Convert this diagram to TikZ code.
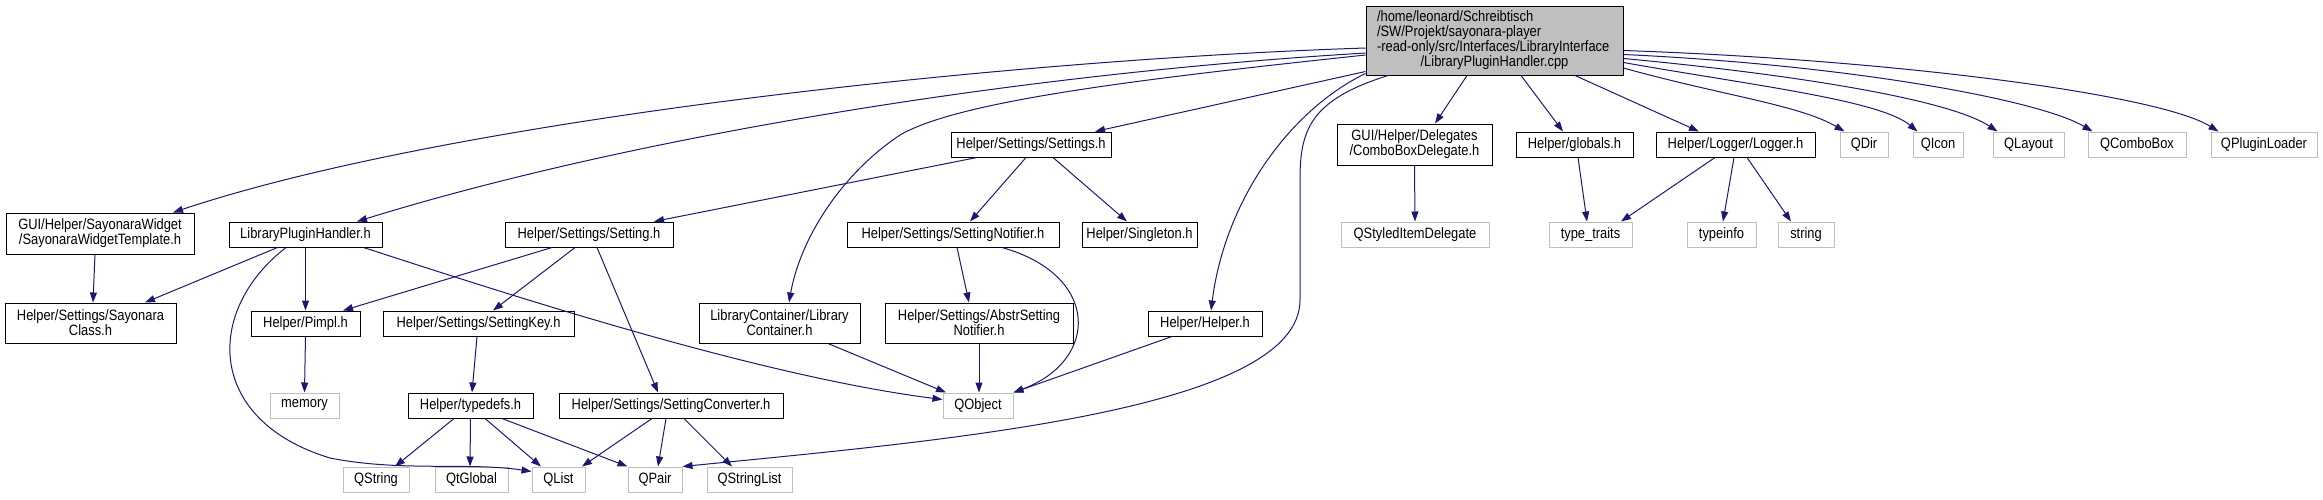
\documentclass[tikz,border=0pt]{standalone}
\usepackage{fontspec}
\setmainfont{Liberation Sans}[FakeStretch=0.86]
\usetikzlibrary{arrows.meta}
\definecolor{edgeblue}{HTML}{191970}
\definecolor{extgray}{HTML}{BFBFBF}
\tikzset{
  doc/.style={draw=black, fill=white, line width=1pt, inner sep=0pt, align=center, font=\fontsize{15}{15}\selectfont},
  ext/.style={doc, draw=extgray},
  sz/.style 2 args={minimum width=#1pt, minimum height=#2pt},
  inc/.style={draw=edgeblue, line width=1pt, -{Triangle[length=10pt,width=7pt]}}}

\begin{document}
\begin{tikzpicture}[x=1pt, y=-1pt]
	\useasboundingbox (0,0) rectangle (2323,499);
	% nodes
	\node[doc, fill=extgray, sz={257}{69}, text width=235pt, inner xsep=11pt, align=left] (root) at (1494.5,40.5)
		{/home/leonard/Schreibtisch\\/SW/Projekt/sayonara-player\\-read-only/src/Interfaces/LibraryInterface\\\makebox[235pt][c]{/LibraryPluginHandler.cpp}};
	\node[doc, sz={160}{25}] (settings) at (1031,144.5) {Helper/Settings/Settings.h};
	\node[doc, sz={155}{41}] (combo) at (1414.5,144.5) {GUI/Helper/Delegates\\/ComboBoxDelegate.h};
	\node[doc, sz={117}{25}] (globals) at (1574.5,144.5) {Helper/globals.h};
	\node[doc, sz={159}{25}] (logger) at (1735.5,144.5) {Helper/Logger/Logger.h};
	\node[ext, sz={48}{25}] (qdir) at (1864,144.5) {QDir};
	\node[ext, sz={50}{25}] (qicon) at (1938,144.5) {QIcon};
	\node[ext, sz={71}{25}] (qlayout) at (2028.5,144.5) {QLayout};
	\node[ext, sz={98}{25}] (qcombobox) at (2137,144.5) {QComboBox};
	\node[ext, sz={106}{25}] (qpluginloader) at (2264,144.5) {QPluginLoader};
	\node[doc, sz={188}{41}] (swt) at (100,233.5) {GUI/Helper/SayonaraWidget\\/SayonaraWidgetTemplate.h};
	\node[doc, sz={153}{25}] (lph) at (305.5,234.5) {LibraryPluginHandler.h};
	\node[doc, sz={168}{25}] (setting) at (589,234.5) {Helper/Settings/Setting.h};
	\node[doc, sz={212}{25}] (notifier) at (953,234.5) {Helper/Settings/SettingNotifier.h};
	\node[doc, sz={115}{25}] (singleton) at (1139.5,234.5) {Helper/Singleton.h};
	\node[ext, sz={148}{25}] (styled) at (1415,234.5) {QStyledItemDelegate};
	\node[ext, sz={83}{25}] (typetraits) at (1590.5,234.5) {type\_traits};
	\node[ext, sz={69}{25}] (typeinfo) at (1721.5,234.5) {typeinfo};
	\node[ext, sz={56}{25}] (string) at (1806,234.5) {string};
	\node[doc, sz={171}{40}] (sayclass) at (90.5,323) {Helper/Settings/Sayonara\\Class.h};
	\node[doc, sz={109}{25}] (pimpl) at (305.5,323.5) {Helper/Pimpl.h};
	\node[doc, sz={191}{25}] (key) at (478.5,323.5) {Helper/Settings/SettingKey.h};
	\node[doc, sz={161}{40}] (container) at (779.5,323) {LibraryContainer/Library\\Container.h};
	\node[doc, sz={188}{40}] (abstr) at (979,323) {Helper/Settings/AbstrSetting\\Notifier.h};
	\node[doc, sz={114}{25}] (helper) at (1205,323.5) {Helper/Helper.h};
	\node[ext, sz={69}{25}] (memory) at (304.5,405.5) {memory};
	\node[doc, sz={125}{25}] (typedefs) at (470.5,405.5) {Helper/typedefs.h};
	\node[doc, sz={224}{25}] (converter) at (671,405.5) {Helper/Settings/SettingConverter.h};
	\node[ext, sz={70}{25}] (qobject) at (978,405.5) {QObject};
	\node[ext, sz={66}{25}] (qstring) at (376,479.5) {QString};
	\node[ext, sz={73}{25}] (qtglobal) at (471.5,479.5) {QtGlobal};
	\node[ext, sz={53}{25}] (qlist) at (558.5,479.5) {QList};
	\node[ext, sz={54}{25}] (qpair) at (655,479.5) {QPair};
	\node[ext, sz={85}{25}] (qstringlist) at (749.5,479.5) {QStringList};
	% includes of the cpp file
	\draw[inc] ([yshift=-7.5]root.west) .. controls (1000,60) and (450,120) .. ([xshift=73]swt.north);
	\draw[inc] ([yshift=-12.5]root.west) .. controls (1000,75) and (620,140) .. ([xshift=51.5]lph.north);
	\draw[inc] ([yshift=-31]root.west) -- ([xshift=64]settings.north);
	\draw[inc] ([yshift=-14.5]root.west) .. controls (1150,78) and (960,100) .. (900,135) .. controls (840,175) and (800,240) .. ([xshift=9.5]container.north);
	\draw[inc] ([yshift=-33]root.west) .. controls (1290,110) and (1225,200) .. ([xshift=6]helper.north);
	\draw[inc] ([xshift=-106.5]root.south) .. controls (1310,100) and (1300,130) .. (1300,180) -- (1300,300) .. controls (1300,410) and (950,440) .. (qpair.north east);
	\draw[inc] ([xshift=-27.5]root.south) -- ([xshift=20.5]combo.north);
	\draw[inc] ([xshift=26.5]root.south) -- ([xshift=-11.5]globals.north);
	\draw[inc] ([xshift=80.5]root.south) -- ([xshift=-36.5]logger.north);
	\draw[inc] ([yshift=-27.5]root.east) .. controls (1720,95) and (1800,105) .. ([xshift=5]qdir.north west);
	\draw[inc] ([yshift=-22]root.east) .. controls (1750,85) and (1880,100) .. ([xshift=5]qicon.north west);
	\draw[inc] ([yshift=-18]root.east) .. controls (1800,75) and (1950,100) .. ([xshift=5]qlayout.north west);
	\draw[inc] ([yshift=-14]root.east) .. controls (1850,65) and (2040,100) .. ([xshift=5]qcombobox.north west);
	\draw[inc] ([yshift=-10]root.east) .. controls (1900,60) and (2160,95) .. ([xshift=8]qpluginloader.north west);
	% headers
	\draw[inc] ([xshift=-5]swt.south) -- ([xshift=2.5]sayclass.north);
	\draw[inc] ([xshift=-28]lph.south) -- ([xshift=54.5]sayclass.north);
	\draw[inc] (lph.south) -- (pimpl.north);
	\draw[inc] ([xshift=-19.5]lph.south) .. controls (205,310) and (205,420) .. (330,458) .. controls (400,472) and (470,462) .. ([yshift=8]qlist.west);
	\draw[inc] ([xshift=58]lph.south) .. controls (480,285) and (750,375) .. ([yshift=6]qobject.west);
	\draw[inc] ([xshift=-54]settings.south) -- ([xshift=65]setting.north);
	\draw[inc] ([xshift=-5]settings.south) -- ([xshift=17]notifier.north);
	\draw[inc] ([xshift=22]settings.south) -- ([xshift=-12.5]singleton.north);
	\draw[inc] ([xshift=-37]setting.south) -- ([xshift=37.5]pimpl.north);
	\draw[inc] ([xshift=-14]setting.south) -- ([xshift=14.5]key.north);
	\draw[inc] ([xshift=8]setting.south) -- ([xshift=-13]converter.north);
	\draw[inc] ([xshift=4]notifier.south) -- ([xshift=-10]abstr.north);
	\draw[inc] ([xshift=49]notifier.south) .. controls (1100,275) and (1100,360) .. (qobject.north east);
	\draw[inc] ([xshift=48.5]container.south) -- ([xshift=-32]qobject.north);
	\draw[inc] (abstr.south) -- ([xshift=1]qobject.north);
	\draw[inc] ([xshift=-33]helper.south) -- (qobject.north east);
	\draw[inc] (combo.south) -- (styled.north);
	\draw[inc] ([xshift=3.5]globals.south) -- ([xshift=-3.5]typetraits.north);
	\draw[inc] ([xshift=-20.5]logger.south) -- ([xshift=30.5]typetraits.north);
	\draw[inc] ([xshift=-1.5]logger.south) -- ([xshift=1.5]typeinfo.north);
	\draw[inc] ([xshift=11.5]logger.south) -- ([xshift=-15]string.north);
	\draw[inc] (pimpl.south) -- (memory.north);
	\draw[inc] ([xshift=-1.5]key.south) -- ([xshift=1.5]typedefs.north);
	\draw[inc] ([xshift=-16.5]typedefs.south) -- ([xshift=19]qstring.north);
	\draw[inc] (typedefs.south) -- ([xshift=-1.5]qtglobal.north);
	\draw[inc] ([xshift=14.5]typedefs.south) -- ([xshift=-17.5]qlist.north);
	\draw[inc] ([xshift=31.5]typedefs.south) -- (qpair.north west);
	\draw[inc] ([xshift=-19]converter.south) -- ([xshift=23.5]qlist.north);
	\draw[inc] ([xshift=-5]converter.south) -- ([xshift=3]qpair.north);
	\draw[inc] ([xshift=13]converter.south) -- ([xshift=-17.5]qstringlist.north);
\end{tikzpicture}
\end{document}
